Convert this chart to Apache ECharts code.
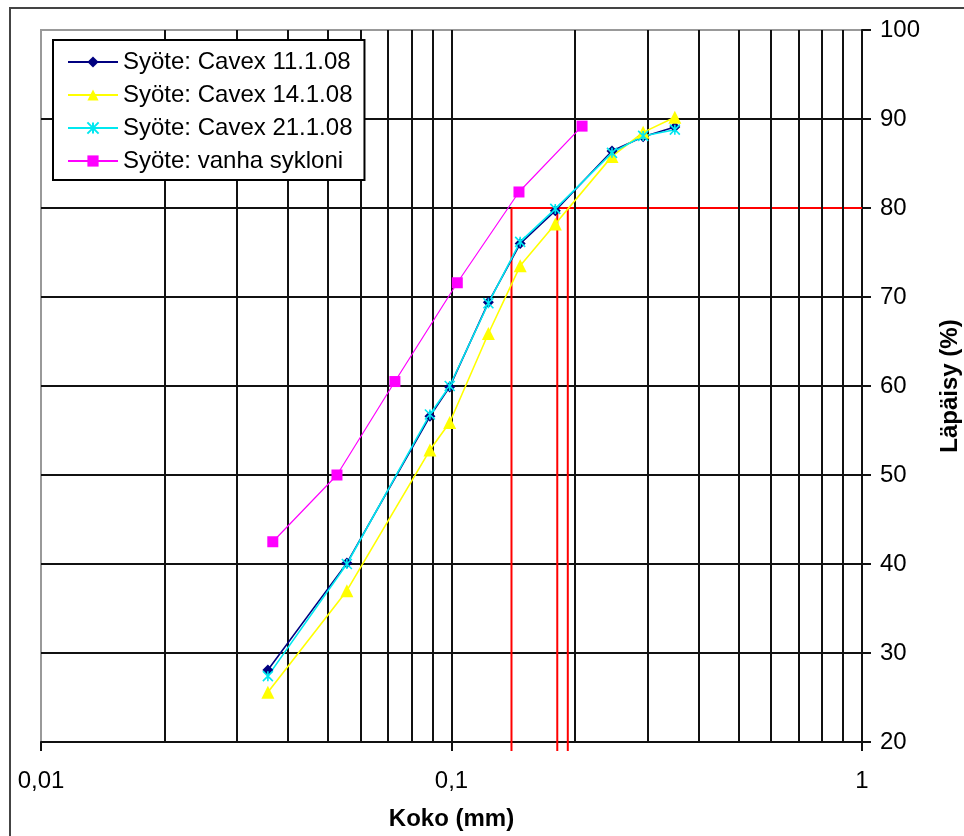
<!DOCTYPE html>
<html>
<head>
<meta charset="utf-8">
<script src="https://cdn.jsdelivr.net/npm/echarts@6.0.0/dist/echarts.min.js"></script>
<style>
  html, body { margin: 0; padding: 0; background: #fff; }
  #chart { width: 964px; height: 836px; }
</style>
</head>
<body>
<div id="chart"></div>
<script>
// particle size (mm) and passing (%)
const cavexSizes = [0.0357, 0.0556, 0.0886, 0.099, 0.123, 0.147, 0.179, 0.246, 0.293, 0.35]
const cavex11 = [28.1, 40.1, 56.6, 59.9, 69.4, 76.0, 79.7, 86.4, 88.0, 89.1]
const cavex14 = [25.6, 37.0, 52.8, 55.9, 65.9, 73.5, 78.2, 85.8, 88.5, 90.2]
const cavex21 = [27.4, 40.0, 56.8, 60.0, 69.3, 76.2, 79.9, 86.2, 88.1, 88.8]

const vanhaSizes = [0.0367, 0.0526, 0.0728, 0.1033, 0.146, 0.208]
const vanha = [42.5, 50.0, 60.5, 71.6, 81.8, 89.2]

// d80 guide lines
const d80Level = 80
const d80Sizes = [0.14, 0.181, 0.192]

// log grid lines between decades
const logGridValues = [0.02, 0.03, 0.04, 0.05, 0.06, 0.07, 0.08, 0.09, 0.1,
  0.2, 0.3, 0.4, 0.5, 0.6, 0.7, 0.8, 0.9]

const FONT = '"Liberation Sans", Arial, sans-serif'
const pairs = (xs, ys) => xs.map((x, i) => [x, ys[i]])

const chart = echarts.init(document.getElementById('chart'))

const lineSeries = (name, xs, ys, color, symbol, size, extra) => Object.assign({
  name,
  type: 'line',
  data: pairs(xs, ys),
  symbol,
  symbolSize: size,
  showAllSymbol: true,
  lineStyle: { color, width: 1.6 },
  itemStyle: { color, borderWidth: 0 },
  z: 5,
}, extra || {})

chart.setOption({
  animation: false,
  backgroundColor: '#fff',
  textStyle: { fontFamily: FONT },
  graphic: [{
    type: 'rect',
    shape: { x: 10, y: 8, width: 1000, height: 1000 },
    style: { fill: 'none', stroke: '#444', lineWidth: 2 },
    z: -10,
    silent: true,
  }],
  grid: {
    left: 41,
    right: 102,
    top: 30,
    bottom: 94,
    outerBoundsMode: 'none',
    containLabel: false,
    show: true,
    borderColor: '#999',
    borderWidth: 2,
    backgroundColor: 'transparent',
  },
  legend: {
    orient: 'vertical',
    left: 53,
    top: 40,
    padding: [10, 12, 7, 14],
    itemWidth: 50,
    itemHeight: 14,
    itemGap: 9,
    backgroundColor: '#fff',
    borderColor: '#000',
    borderWidth: 2,
    textStyle: { fontSize: 24, color: '#000', fontFamily: FONT, lineHeight: 24 },
    data: ['Syöte: Cavex 11.1.08', 'Syöte: Cavex 14.1.08', 'Syöte: Cavex 21.1.08', 'Syöte: vanha sykloni'],
    z: 20,
  },
  xAxis: {
    type: 'log',
    logBase: 10,
    min: 0.01,
    max: 1,
    name: 'Koko (mm)',
    nameLocation: 'middle',
    nameGap: 65,
    nameTextStyle: { fontSize: 24, fontWeight: 'bold', color: '#000', fontFamily: FONT },
    axisLine: { show: true, lineStyle: { color: '#111', width: 2 } },
    axisTick: { show: true, length: 9, lineStyle: { color: '#111', width: 2 } },
    axisLabel: {
      fontSize: 24,
      color: '#000',
      margin: 27,
      formatter: (v) => String(+v.toPrecision(3)).replace('.', ','),
    },
    splitLine: { show: false },
    minorTick: { show: false },
  },
  yAxis: {
    type: 'value',
    position: 'right',
    min: 20,
    max: 100,
    interval: 10,
    name: 'Läpäisy (%)',
    nameLocation: 'middle',
    nameRotate: 90,
    nameGap: 76,
    nameTextStyle: { fontSize: 24, fontWeight: 'bold', color: '#000', fontFamily: FONT },
    axisLine: { show: true, lineStyle: { color: '#111', width: 2 } },
    axisTick: { show: true, length: 9, lineStyle: { color: '#111', width: 2 } },
    axisLabel: { fontSize: 24, color: '#000', margin: 18 },
    splitLine: {
      show: true,
      lineStyle: {
        color: ['#111', '#111', '#111', '#111', '#111', '#111', '#111', '#111', '#999'],
        width: 2,
      },
    },
  },
  series: [
    {
      // vertical log grid
      type: 'line',
      data: [],
      silent: true,
      z: 1,
      markLine: {
        silent: true,
        symbol: ['none', 'none'],
        label: { show: false },
        lineStyle: { color: '#111', width: 2, type: 'solid' },
        emphasis: { disabled: true },
        data: logGridValues.map((v) => ({ xAxis: v })),
      },
    },
    {
      // red d80 guides
      type: 'custom',
      silent: true,
      z: 3,
      data: d80Sizes.map((v) => [v, d80Level]),
      renderItem: (params, api) => {
        const top = api.coord([api.value(0), api.value(1)])
        const bottom = api.coord([api.value(0), 20])
        const style = { stroke: '#ff0000', lineWidth: 2 }
        const children = [{
          type: 'line',
          shape: { x1: top[0], y1: top[1], x2: bottom[0], y2: bottom[1] + 9 },
          style,
        }]
        if (params.dataIndex === 0) {
          const end = api.coord([1, api.value(1)])
          children.push({
            type: 'line',
            shape: { x1: top[0], y1: top[1], x2: end[0], y2: end[1] },
            style,
          })
        }
        return { type: 'group', children }
      },
    },
    lineSeries('Syöte: Cavex 11.1.08', cavexSizes, cavex11, '#000080', 'diamond', 11),
    lineSeries('Syöte: Cavex 14.1.08', cavexSizes, cavex14, '#ffff00', 'triangle', 13),
    lineSeries('Syöte: Cavex 21.1.08', cavexSizes, cavex21, '#00e8f0',
      'path://M0,0L10,10M10,0L0,10M5,0L5,10', 10, {
        itemStyle: { color: 'none', borderColor: '#00e8f0', borderWidth: 1.6 },
      }),
    lineSeries('Syöte: vanha sykloni', vanhaSizes, vanha, '#ff00ff', 'rect', 11,
      { lineStyle: { color: '#ff00ff', width: 1.2 } }),
  ],
})
</script>
</body>
</html>
